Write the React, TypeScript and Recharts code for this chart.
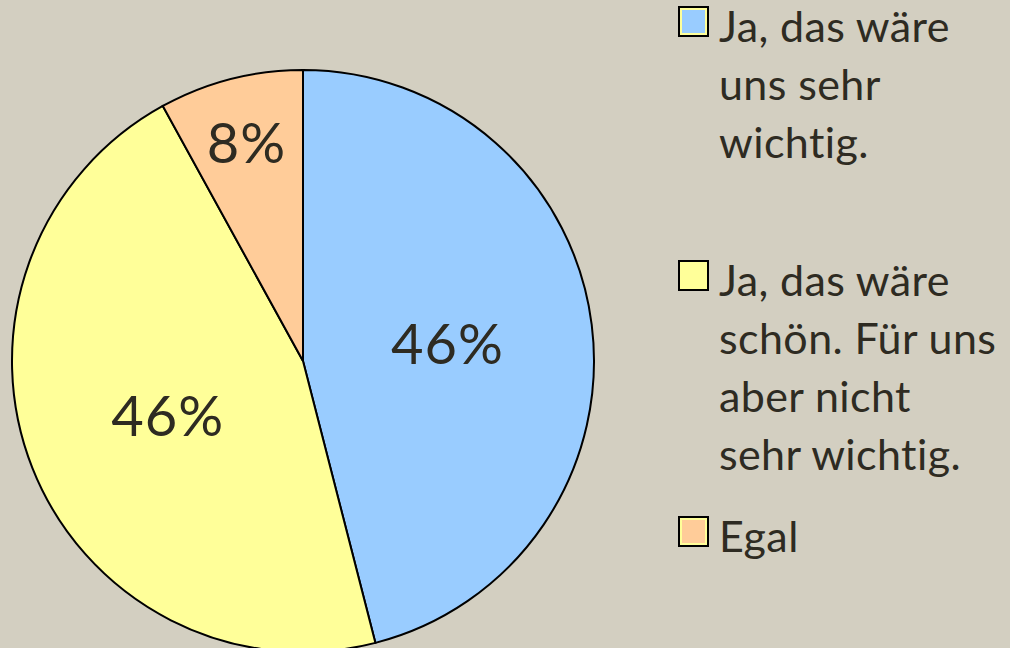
import React from "react";
import { PieChart, Pie, Cell, Legend } from "recharts";

const categories = [
  "Ja, das wäre uns sehr wichtig.",
  "Ja, das wäre schön. Für uns aber nicht sehr wichtig.",
  "Egal",
];
const values = [46, 46, 8];
const colors = ["#99ccff", "#ffff99", "#ffcc99"];

const data = categories.map((name, i) => ({ name, value: values[i] }));

const FONT = "Lato, 'Open Sans', sans-serif";
const TEXT = "#2e2b22";
const BG = "#d3cfc1";

const RADIAN = Math.PI / 180;

// simple word wrap by character count, like the legend box of the original
const wrap = (s: string, max: number) => {
  const lines: string[] = [];
  let cur = "";
  s.split(" ").forEach((w) => {
    if (cur && (cur + " " + w).length > max) {
      lines.push(cur);
      cur = w;
    } else {
      cur = cur ? cur + " " + w : w;
    }
  });
  if (cur) lines.push(cur);
  return lines;
};

const renderLabel = (props: any) => {
  const { cx, cy, midAngle, outerRadius, percent } = props;
  const r = percent < 0.1 ? outerRadius * 0.78 : outerRadius * 0.5;
  const x = cx + r * Math.cos(-midAngle * RADIAN);
  const y = cy + r * Math.sin(-midAngle * RADIAN);
  return (
    <text
      x={x}
      y={y}
      fill={TEXT}
      textAnchor="middle"
      dominantBaseline="central"
      fontFamily={FONT}
      fontSize={56}
      letterSpacing={1}
    >
      {`${Math.round(percent * 100)}%`}
    </text>
  );
};

const itemGaps = [80, 24, 0];

const renderLegend = () => (
  <div style={{ fontFamily: FONT, color: TEXT }}>
    {data.map((d, i) => (
      <div
        key={d.name}
        style={{ display: "flex", alignItems: "flex-start", marginBottom: itemGaps[i] }}
      >
        <div
          style={{
            width: 27,
            height: 27,
            marginTop: 9,
            marginRight: 10,
            flexShrink: 0,
            background: colors[i],
            border: "2px solid #000",
            boxShadow: "inset 0 0 0 2px #ffff99",
          }}
        />
        <div
          style={{
            fontSize: 43,
            lineHeight: "58px",
            letterSpacing: 0.4,
            fontVariantLigatures: "none",
            whiteSpace: "nowrap",
          }}
        >
          {wrap(d.name, 14).map((line) => (
            <div key={line}>{line}</div>
          ))}
        </div>
      </div>
    ))}
  </div>
);

export default function App() {
  return (
    <div
      style={{
        position: "absolute",
        left: 0,
        top: 0,
        width: 1010,
        height: 648,
        background: BG,
        overflow: "hidden",
      }}
    >
      <PieChart width={1010} height={648} margin={{ top: 0, right: 0, bottom: 0, left: 0 }}>
        <Pie
          data={data}
          dataKey="value"
          nameKey="name"
          cx={303}
          cy={361}
          outerRadius={291}
          startAngle={90}
          endAngle={-270}
          stroke="#000"
          strokeWidth={2}
          label={renderLabel}
          labelLine={false}
          isAnimationActive={false}
        >
          {data.map((d, i) => (
            <Cell key={d.name} fill={colors[i]} />
          ))}
        </Pie>
        <Legend
          layout="vertical"
          align="right"
          verticalAlign="top"
          content={renderLegend}
          wrapperStyle={{ left: 678, top: -3, width: 332 }}
        />
      </PieChart>
    </div>
  );
}
